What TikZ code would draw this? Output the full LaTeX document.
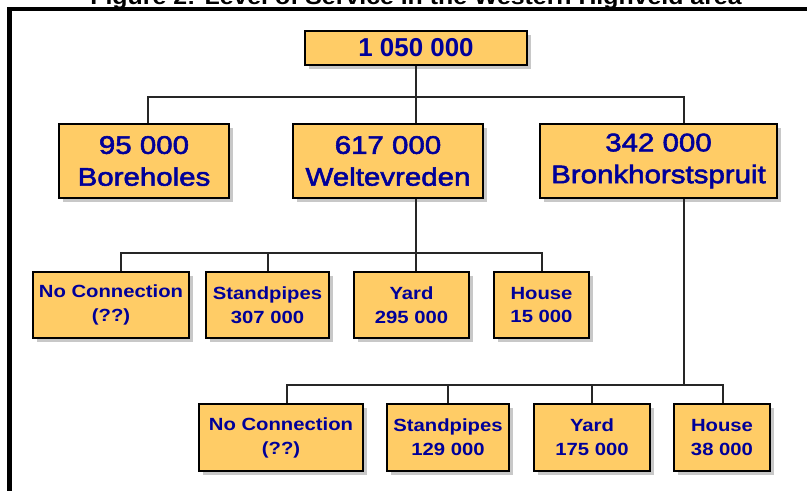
\documentclass[tikz,border=0pt]{standalone}
\usepackage{fontspec}
\setmainfont{Liberation Sans}
\newfontfamily\wf[FakeStretch=1.15]{Liberation Sans}
\newfontfamily\wm[FakeStretch=1.16, FakeBold=2.2]{Liberation Sans}
\usetikzlibrary{shadows}
\definecolor{boxfill}{HTML}{FFCC66}
\definecolor{navy}{HTML}{000099}
\definecolor{shade}{HTML}{C8C8C8}
\begin{document}
\begin{tikzpicture}[x=1bp,y=-1bp,
  box/.style={draw=black, line width=2bp, fill=boxfill, text=navy, inner sep=0pt, align=center,
    drop shadow={shadow xshift=4bp, shadow yshift=-4bp, fill=shade, opacity=1}},
  topbox/.style={box, font=\bfseries\fontsize{26}{30}\selectfont},
  bigbox/.style={box, minimum height=74bp, font=\wm\fontsize{25.5}{32}\selectfont},
  smallbox/.style={box, font=\wf\bfseries\fontsize{17.7}{24}\selectfont},
  conn/.style={line width=2bp, draw=black!85}]
\useasboundingbox (0,0) rectangle (807,491);
\fill[white] (0,0) rectangle (807,491);
% frame and title
\draw[line width=4.3bp] (9.5,500) -- (9.5,9) -- (830,9);
\node[font=\wf\bfseries\fontsize{21.7}{24}\selectfont, anchor=base, inner sep=0pt] (title) at (416,5) {Figure 2: Level of Service in the Western Highveld area};
% level 1
\node[topbox, minimum width=222bp, minimum height=34bp] (top) at (416,48) {1 050 000};
% level 2
\node[bigbox, minimum width=170bp] (bore) at (144,161) {95 000\\Boreholes};
\node[bigbox, minimum width=190bp] (welt) at (388,161) {617 000\\Weltevreden};
\node[bigbox, minimum width=237bp] (bron) at (658.5,161) {342 000\\Bronkhorstspruit};
% level 3 (Weltevreden)
\node[smallbox, minimum width=156bp, minimum height=66bp] (wnc) at (111,305) {No Connection\\(??)};
\node[smallbox, minimum width=123bp, minimum height=66bp] (wsp) at (267.5,305) {Standpipes\\307 000};
\node[smallbox, minimum width=115bp, minimum height=66bp] (wyd) at (411.5,305) {Yard\\295 000};
\node[smallbox, minimum width=95bp, minimum height=66bp] (who) at (541.5,305) {House\\15 000};
% level 4 (Bronkhorstspruit)
\node[smallbox, minimum width=164bp, minimum height=67bp] (bnc) at (281,437.5) {No Connection\\(??)};
\node[smallbox, minimum width=122bp, minimum height=67bp] (bsp) at (448,437.5) {Standpipes\\129 000};
\node[smallbox, minimum width=116bp, minimum height=67bp] (byd) at (592,437.5) {Yard\\175 000};
\node[smallbox, minimum width=96bp, minimum height=67bp] (bho) at (722,437.5) {House\\38 000};
% bus coordinates
\coordinate (bus1L) at (148,97);
\coordinate (bus1R) at (684,97);
\coordinate (bus2L) at (121,253);
\coordinate (bus2R) at (542,253);
\coordinate (bus3L) at (287,385);
\coordinate (bus3R) at (723,385);
% connectors
\draw[conn] (top.south) -- (top.south |- welt.north);
\draw[conn] (bus1L |- bore.north) -- (bus1L) -- (bus1R) -- (bus1R |- bron.north);
\draw[conn] (top.south |- welt.south) -- (top.south |- wyd.north);
\draw[conn] (wnc.north -| bus2L) -- (bus2L) -- (bus2R) -- (bus2R |- who.north);
\draw[conn] (wsp.north) -- (wsp.north |- bus2L);
\draw[conn] (bus1R |- bron.south) -- (bus1R |- bus3L);
\draw[conn] (bnc.north -| bus3L) -- (bus3L) -- (bus3R) -- (bus3R |- bho.north);
\draw[conn] (bsp.north) -- (bsp.north |- bus3L);
\draw[conn] (byd.north) -- (byd.north |- bus3L);
\end{tikzpicture}
\end{document}
